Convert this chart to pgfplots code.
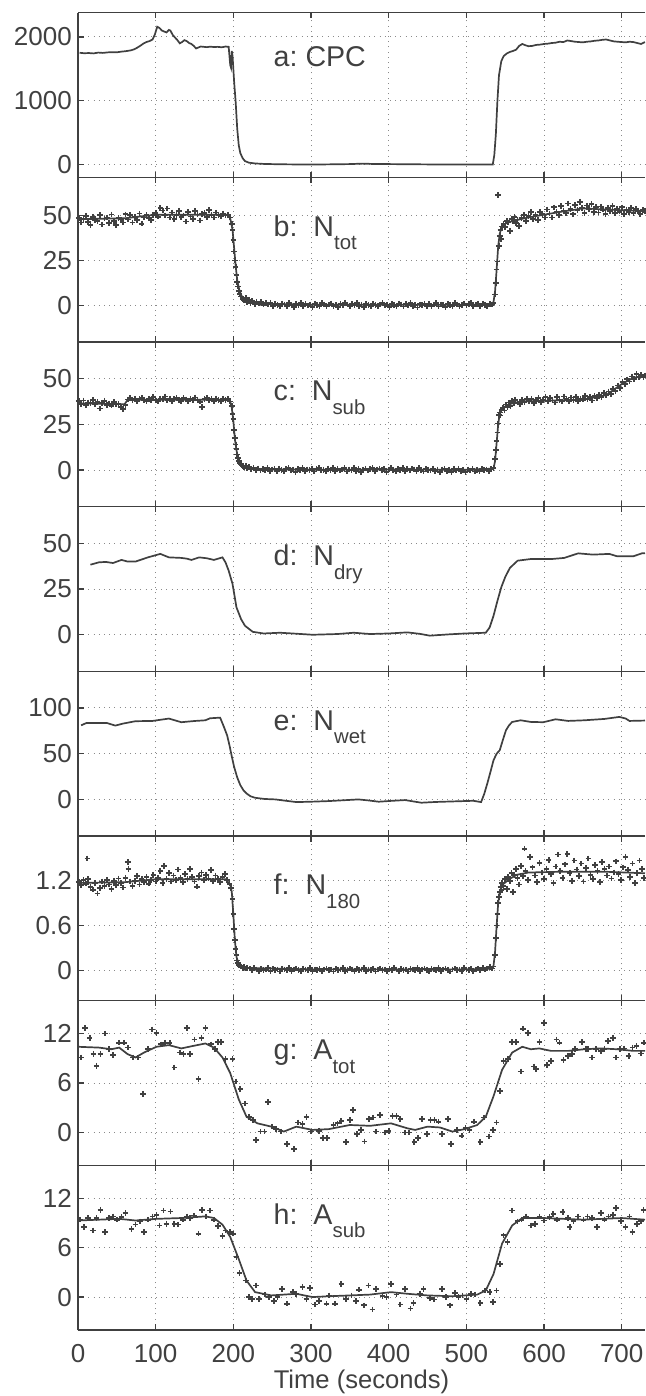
\documentclass[border=0pt]{standalone}
\usepackage{fontspec}
\setmainfont{Liberation Sans}
\usepackage{pgfplots}
\pgfplotsset{compat=1.18}
\definecolor{ink}{HTML}{404040}
\definecolor{gridc}{HTML}{8A8A8A}
\pgfplotsset{
  panel/.style={
    scale only axis, width=283.5pt, height=82.33pt,
    xmin=0, xmax=730,
    axis x line*=box, axis y line*=left,
    every outer x axis line/.append style={-},
    every outer y axis line/.append style={-},
    every inner x axis line/.append style={-},
    every inner y axis line/.append style={-},
    axis line style={ink, line width=0.75pt},
    ytick pos=left, xtick pos=both,
    tick align=inside,
    major tick length=2.8pt,
    tick style={ink, line width=0.6pt},
    xtick={0,100,...,700},
    xticklabels={},
    grid=major,
    major grid style={gridc, line width=0.5pt, dash pattern=on 0.5pt off 2.1pt},
    ticklabel style={font=\fontsize{13}{15}\selectfont, text=ink},
    yticklabel style={inner sep=0pt, anchor=east, xshift=-2.9pt},
    xticklabel style={inner sep=0pt, anchor=base, yshift=-16.4pt},
    /pgf/number format/assume math mode=true,
    /pgf/number format/1000 sep={},
    scaled y ticks=false,
    anchor=south west,
  },
  ln/.style={ink, line width=0.85pt, no markers},
  pts/.style={ink, only marks, mark=+, mark size=1.4pt, mark options={line width=0.85pt}},
}
\tikzset{lab/.style={anchor=base west, font=\fontsize{14.3}{16}\selectfont, text=ink, inner sep=0pt}}
\newcommand{\subtx}[1]{\raisebox{-6.8pt}{\fontsize{10.2}{12}\selectfont #1}}
\begin{document}
\begin{tikzpicture}
\useasboundingbox (0,0) rectangle (322.5pt,698pt);
% ---------------- a: CPC
\begin{axis}[panel, at={(39pt,609.31pt)}, ymin=-200, ymax=2380, ytick={0,1000,2000}]
\addplot[ln] coordinates {(2,1752)(8,1745)(14,1748)(20,1742)(26,1755)(32,1750)(38,1758)(44,1762)(50,1760)(56,1770)(62,1778)(68,1790)(72,1805)(76,1830)(80,1860)(84,1895)(88,1920)(92,1935)(96,1960)(99,2040)(102,2160)(105,2140)(108,2100)(111,2085)(114,2070)(117,2110)(119,2100)(122,2030)(125,1990)(128,1950)(131,1900)(134,1920)(137,1950)(140,1935)(143,1905)(146,1890)(149,1860)(152,1820)(155,1835)(158,1850)(162,1845)(166,1840)(170,1848)(175,1842)(180,1845)(185,1838)(190,1850)(194,1845)(196,1560)(197,1520)(198,1780)(199,1700)(201,1300)(203,980)(205,560)(207,300)(209,180)(212,100)(215,55)(220,30)(228,18)(240,10)(260,5)(300,0)(350,8)(366,15)(380,10)(400,8)(450,3)(500,0)(534,0)(536,150)(538,480)(540,1000)(542,1400)(545,1620)(548,1700)(552,1740)(556,1765)(560,1780)(564,1800)(568,1860)(572,1890)(576,1870)(580,1855)(585,1860)(590,1875)(595,1880)(600,1890)(605,1895)(610,1905)(615,1910)(620,1925)(625,1920)(630,1945)(635,1935)(640,1925)(645,1920)(650,1915)(655,1925)(660,1930)(665,1940)(670,1945)(675,1955)(680,1960)(685,1945)(690,1930)(695,1925)(700,1920)(705,1915)(710,1925)(715,1920)(720,1905)(725,1890)(730,1920)};
\node[lab] at (rel axis cs:0.3445,0.672) {a:\ CPC};
\end{axis}
% ---------------- b: N_tot
\begin{axis}[panel, at={(39pt,526.98pt)}, ymin=-20.4, ymax=71.3, ytick={0,25,50}]
\addplot[pts] coordinates {(1,48.7)(4,46.1)(7,48.0)(10,49.9)(13,46.5)(16,44.8)(19,49.3)(22,47.7)(25,46.9)(28,50.4)(31,45.0)(34,48.4)(37,49.0)(40,45.8)(43,50.6)(46,47.1)(49,44.7)(52,48.6)(55,47.8)(58,46.1)(61,50.7)(64,47.9)(67,50.2)(70,46.2)(73,49.3)(76,47.4)(79,51.1)(82,45.5)(85,48.9)(88,50.4)(91,48.6)(94,47.7)(97,50.5)(100,51.6)(103,49.4)(106,54.3)(109,52.8)(112,50.1)(115,53.9)(118,49.0)(121,51.8)(124,48.2)(127,50.5)(130,52.7)(133,49.3)(136,50.1)(139,46.8)(142,51.9)(145,49.5)(148,48.2)(151,52.4)(154,50.6)(157,47.3)(160,50.8)(163,51.5)(166,49.2)(169,53.1)(172,50.4)(175,48.9)(178,51.7)(181,50.2)(184,49.6)(187,51.2)(190,50.0)(193,50.5)
(196,49.0)(198,45.5)(199,42.0)(200,36.5)(201,30.0)(202,25.0)(203,21.5)(204,17.0)(205,13.0)(206,10.5)(207,8.0)(208,6.5)(210,5.0)(212,3.5)(214,2.8)(216,4.2)(218,1.9)(220,3.0)(222,1.2)(224,2.5)(226,1.6)(228,0.7)(230,2.1)(233,1.0)(236,1.8)(239,0.4)(242,1.3)(245,0.6)(248,1.5)(251,-0.3)
(254,0.9)(257,0.2)(260,-0.6)(263,1.1)(266,0.5)(269,-0.2)(272,1.4)(275,0.1)(278,-0.9)(281,0.7)(284,0.3)(287,1.2)(290,-0.4)(293,0.8)(296,-0.1)(299,0.5)(302,-0.8)(305,1.0)(308,0.2)(311,-0.3)(314,1.3)(317,0.6)(320,-0.5)(323,0.4)(326,1.1)(329,-0.2)(332,0.3)(335,-0.9)(338,0.9)(341,0.0)(344,1.5)(347,0.4)(350,-0.6)(353,0.7)(356,0.1)(359,1.2)(362,-0.3)(365,0.5)(368,-1.0)(371,0.8)(374,0.2)(377,-0.4)(380,1.0)(383,0.3)(386,-0.7)(389,0.6)(392,1.3)(395,-0.1)(398,0.4)(401,-0.8)(404,0.9)(407,0.1)(410,-0.3)(413,1.1)(416,0.5)(419,-0.6)(422,0.7)(425,0.0)(428,1.2)(431,-0.5)(434,0.3)(437,-1.1)(440,0.6)(443,0.2)(446,1.0)(449,-0.4)(452,0.8)(455,-0.2)(458,0.4)(461,1.4)(464,-0.7)(467,0.5)(470,0.1)(473,-0.9)(476,0.9)(479,0.3)(482,-0.3)(485,1.2)(488,0.6)(491,-0.6)(494,0.2)(497,1.0)(500,-0.1)(503,0.7)(506,1.3)(509,-0.5)(512,0.4)(515,0.9)(518,-0.2)(521,1.1)(524,0.3)(527,-0.4)(530,0.8)(533,0.5)(535,1.2)
(537,6.0)(538,12.5)(539,20.0)(540,24.5)(541,61.5)(542,33.0)(543,38.5)(544,42.0)(545,37.0)(546,44.0)(548,45.5)(550,43.8)(552,47.0)(554,46.2)(556,41.5)(558,48.3)(560,46.7)(562,49.1)(564,45.8)(566,47.9)(568,44.2)
(571,48.8)(574,50.5)(577,46.9)(580,49.7)(583,51.9)(586,48.2)(589,50.3)(592,47.6)(595,52.1)(598,50.8)(601,49.0)(604,53.4)(607,51.2)(610,48.9)(613,54.6)(616,52.0)(619,50.5)(622,55.3)(625,52.9)(628,51.4)(631,56.8)(634,53.6)(637,50.7)(640,55.9)(643,53.1)(646,57.7)(649,54.2)(652,51.3)(655,55.6)(658,53.8)(661,56.3)(664,52.1)(667,54.7)(670,51.8)(673,55.0)(676,53.3)(679,50.9)(682,54.1)(685,52.6)(688,55.2)(691,51.5)(694,53.9)(697,52.2)(700,54.6)(703,51.0)(706,53.4)(709,52.0)(712,54.3)(715,51.6)(718,53.7)(721,52.5)(724,50.8)(727,53.2)(730,52.4)};
\addplot[ln] coordinates {(0,48)(60,48.5)(100,50.5)(150,50.5)(192,50.5)(196,48.5)(199,42)(201,32)(203,22)(205,14)(208,8)(212,4)(218,2.5)(230,1.5)(250,0.8)(300,0.4)(400,0.3)(500,0.3)(533,0.6)(535,2)(537,8)(539,20)(541,33)(543,40)(546,44)(552,46)(560,47)(580,49)(620,52)(650,54)(700,53)(730,52.5)};
\node[lab] at (rel axis cs:0.3445,0.642) {b:\ \ N\subtx{tot}};
\end{axis}
% ---------------- c: N_sub
\begin{axis}[panel, at={(39pt,444.65pt)}, ymin=-20, ymax=70, ytick={0,25,50}]
\addplot[pts] coordinates {(1,37.8)(4,36.2)(7,38.1)(10,35.4)(13,37.0)(16,36.5)(19,38.3)(22,35.9)(25,37.2)(28,33.6)(31,36.8)(34,37.9)(37,35.7)(40,36.4)(43,35.2)(46,37.1)(49,35.8)(52,36.0)(55,34.6)(58,33.5)(61,35.5)(64,38.6)(67,39.4)(70,38.0)(73,39.1)(76,37.8)(79,38.9)(82,39.6)(85,38.2)(88,37.7)(91,39.0)(94,38.4)(97,39.8)(100,38.1)(103,37.5)(106,39.2)(109,38.7)(112,40.3)(115,38.0)(118,39.1)(121,37.6)(124,38.8)(127,39.5)(130,38.3)(133,37.9)(136,39.4)(139,38.6)(142,37.8)(145,39.0)(148,38.2)(151,39.7)(154,38.5)(157,37.4)(160,34.5)(163,38.9)(166,39.3)(169,38.0)(172,38.8)(175,37.7)(178,39.2)(181,38.4)(184,37.9)(187,39.1)(190,38.3)(193,38.7)(196,37.5)
(198,35.0)(199,30.5)(200,28.0)(201,22.0)(202,17.5)(203,14.0)(204,11.5)(205,8.5)(206,6.5)(207,5.0)(208,3.8)(210,3.0)(212,2.2)(214,1.5)(216,2.4)(218,1.0)(220,1.6)(223,0.6)(226,1.2)(229,0.2)(232,0.9)(235,-0.3)(238,0.7)(241,0.1)(244,1.0)(247,-0.5)(250,0.4)
(253,0.6)(256,-0.4)(259,0.9)(262,0.1)(265,-0.8)(268,0.5)(271,1.1)(274,-0.2)(277,0.3)(280,-0.9)(283,0.7)(286,0.2)(289,1.2)(292,-0.5)(295,0.4)(298,-0.1)(301,0.8)(304,-0.7)(307,0.5)(310,1.0)(313,-0.3)(316,0.2)(319,-0.6)(322,0.9)(325,0.1)(328,1.3)(331,-0.4)(334,0.6)(337,-0.2)(340,0.3)(343,1.1)(346,-0.8)(349,0.4)(352,0.0)(355,1.0)(358,-0.5)(361,0.7)(364,-1.2)(367,0.2)(370,0.8)(373,-0.3)(376,0.5)(379,1.2)(382,-0.6)(385,0.3)(388,0.9)(391,-0.1)(394,0.6)(397,-0.9)(400,0.4)(403,1.1)(406,0.0)(409,-0.4)(412,0.7)(415,0.2)(418,1.0)(421,-0.7)(424,0.5)(427,-0.2)(430,0.8)(433,0.3)(436,-0.5)(439,1.2)(442,0.1)(445,-0.8)(448,0.6)(451,0.2)(454,-0.3)(457,0.9)(460,-0.6)(463,0.4)(466,-1.0)(469,0.3)(472,0.7)(475,-0.4)(478,0.2)(481,-0.9)(484,0.5)(487,-0.2)(490,0.8)(493,-0.6)(496,0.1)(499,-1.1)(502,0.4)(505,-0.3)(508,0.6)(511,-0.8)(514,0.2)(517,-0.5)(520,0.7)(523,-0.1)(526,0.3)(529,-0.6)(532,0.5)(535,1.2)
(537,6.0)(538,11.0)(539,16.0)(540,20.5)(541,25.5)(542,30.0)(543,31.5)(544,29.8)(545,33.0)(547,34.2)(549,32.5)(551,35.8)(553,34.6)(555,36.9)(557,35.1)(559,37.8)(561,36.4)(563,38.5)(566,37.0)(569,36.2)
(572,38.4)(575,37.1)(578,39.0)(581,37.6)(584,38.9)(587,36.8)(590,38.2)(593,39.5)(596,37.3)(599,38.6)(602,40.1)(605,37.7)(608,39.3)(611,38.0)(614,36.9)(617,39.8)(620,38.4)(623,37.6)(626,40.3)(629,38.9)(632,37.5)(635,39.6)(638,38.2)(641,40.0)(644,37.9)(647,39.1)(650,38.5)(653,40.4)(656,38.7)(659,39.9)(662,38.1)(665,40.6)(668,39.2)(671,41.0)(674,39.8)(677,42.1)(680,40.9)(683,43.0)(686,41.7)(689,44.3)(692,43.1)(695,46.2)(698,45.0)(701,48.3)(704,47.1)(707,49.6)(710,48.4)(713,51.2)(716,49.8)(719,52.6)(722,50.7)(725,52.0)(728,50.9)(730,51.8)};
\addplot[ln] coordinates {(0,36.5)(60,36)(64,38.5)(190,38.5)(196,37.5)(198,34)(200,27)(202,17)(204,11)(206,6.5)(209,3.5)(213,2)(220,1)(240,0.4)(300,0.2)(400,0.3)(500,0.2)(535,0.8)(537,5)(539,15)(541,25)(543,31)(547,34)(555,36)(570,37.5)(650,38.5)(680,41)(700,47)(715,50.5)(730,51.5)};
\node[lab] at (rel axis cs:0.3445,0.642) {c:\ \ N\subtx{sub}};
\end{axis}
% ---------------- d: N_dry
\begin{axis}[panel, at={(39pt,362.32pt)}, ymin=-20, ymax=70, ytick={0,25,50}]
\addplot[ln] coordinates {(16,38.3)(27,39.6)(36,39.8)(45,39.2)(56,40.9)(64,40.0)(74,40.0)(90,42.3)(106,44.2)(117,42.3)(133,42.0)(140,41.6)(146,40.9)(156,42.3)(166,41.8)(175,40.9)(186,42.3)(190,39.5)(194,35.0)(199,27.7)(204,15.0)(210,8.5)(215,4.9)(225,1.6)(239,0.7)(260,1.1)(280,0.6)(302,0.0)(334,0.4)(355,1.1)(376,0.4)(400,0.7)(424,1.3)(440,0.5)(453,-0.5)(477,0.2)(498,0.7)(525,1.1)(530,4.0)(535,10.4)(540,18.5)(545,26.0)(550,31.5)(556,36.5)(566,40.5)(583,41.4)(610,41.4)(626,42.0)(644,44.5)(663,43.8)(684,44.2)(694,42.9)(715,42.9)(726,44.5)(730,44.6)};
\node[lab] at (rel axis cs:0.3445,0.642) {d:\ \ N\subtx{dry}};
\end{axis}
% ---------------- e: N_wet
\begin{axis}[panel, at={(39pt,279.99pt)}, ymin=-40, ymax=140, ytick={0,50,100}]
\addplot[ln] coordinates {(4,81.0)(11,83.6)(37,83.6)(48,80.7)(58,82.9)(74,85.5)(96,85.8)(117,88.4)(133,84.4)(151,85.8)(164,86.5)(170,88.7)(183,89.4)(188,79.0)(192,70.0)(195,59.3)(198,47.0)(201,35.6)(205,24.0)(209,15.6)(213,10.0)(217,6.5)(222,3.5)(228,1.8)(240,0.5)(254,0.0)(268,-1.5)(281,-2.9)(300,-2.5)(323,-1.8)(340,-1.0)(361,0.0)(375,-1.2)(387,-2.5)(405,-1.5)(421,-0.7)(442,-3.6)(460,-2.8)(471,-2.5)(490,-2.0)(509,-1.5)(519,-2.9)(523,6.0)(527,17.5)(531,30.0)(535,42.9)(539,50.0)(543,53.8)(547,65.0)(551,75.6)(555,81.0)(559,84.7)(570,86.5)(583,84.7)(599,84.4)(615,87.6)(631,85.8)(652,86.5)(678,88.0)(697,90.2)(705,88.5)(710,85.8)(730,86.2)};
\node[lab] at (rel axis cs:0.3445,0.642) {e:\ \ N\subtx{wet}};
\end{axis}
% ---------------- f: N_180
\begin{axis}[panel, at={(39pt,197.66pt)}, ymin=-0.41, ymax=1.8, ytick={0,0.6,1.2}]
\addplot[pts] coordinates {(1,1.18)(4,1.14)(7,1.21)(10,1.16)(12,1.50)(13,1.22)(16,1.12)(19,1.08)(22,1.17)(25,1.03)(28,1.10)(31,1.19)(34,1.13)(37,1.21)(40,1.15)(43,1.09)(46,1.20)(49,1.14)(52,1.23)(55,1.17)(58,1.11)(61,1.24)(64,1.45)(65,1.36)(67,1.19)(70,1.13)(73,1.20)(76,1.26)(79,1.15)(82,1.22)(85,1.18)(88,1.25)(91,1.16)(94,1.21)(97,1.28)(100,1.19)(103,1.24)(106,1.33)(109,1.17)(111,1.40)(114,1.22)(117,1.30)(120,1.19)(123,1.27)(126,1.21)(129,1.35)(132,1.24)(135,1.18)(138,1.29)(141,1.22)(144,1.36)(147,1.25)(150,1.19)(153,1.12)(156,1.26)(159,1.31)(162,1.21)(165,1.28)(168,1.23)(171,1.34)(174,1.20)(177,1.27)(180,1.22)(183,1.18)(186,1.25)(189,1.29)(192,1.21)(195,1.16)
(197,1.10)(199,0.95)(200,0.75)(201,0.55)(202,0.40)(203,0.28)(204,0.20)(205,0.13)(206,0.10)(207,0.07)(208,0.06)(210,0.05)(212,0.03)(214,0.04)(216,0.02)(218,0.03)
(221,0.02)(224,0.00)(227,0.03)(230,0.01)(233,-0.01)(236,0.02)(239,0.00)(242,0.01)(245,0.03)(248,-0.01)(251,0.02)(254,0.00)(257,0.01)(260,-0.02)(263,0.02)(266,0.01)(269,0.00)(272,0.03)(275,-0.01)(278,0.01)(281,0.02)(284,0.00)(287,-0.01)(290,0.02)(293,0.01)(296,0.00)(299,0.03)(302,-0.01)(305,0.01)(308,0.00)(311,0.02)(314,-0.01)(317,0.01)(320,0.02)(323,0.00)(326,0.01)(329,-0.02)(332,0.02)(335,0.00)(338,0.01)(341,0.03)(344,-0.01)(347,0.00)(350,0.02)(353,0.01)(356,-0.01)(359,0.02)(362,0.00)(365,0.01)(368,0.03)(371,-0.01)(374,0.01)(377,0.00)(380,0.02)(383,-0.02)(386,0.01)(389,0.02)(392,0.00)(395,0.01)(398,-0.01)(401,0.02)(404,0.00)(407,0.03)(410,0.01)(413,-0.01)(416,0.02)(419,0.00)(422,0.01)(425,-0.02)(428,0.02)(431,0.01)(434,0.00)(437,0.03)(440,-0.01)(443,0.01)(446,0.02)(449,0.00)(452,-0.01)(455,0.02)(458,0.01)(461,0.00)(464,0.03)(467,-0.01)(470,0.01)(473,0.02)(476,0.00)(479,-0.02)(482,0.01)(485,0.02)(488,0.00)(491,0.01)(494,-0.01)(497,0.03)(500,0.01)(503,0.00)(506,0.02)(509,-0.01)(512,0.01)(515,0.02)(518,0.00)(521,0.03)(524,0.01)(527,0.02)(530,0.04)(533,0.02)(535,0.05)
(537,0.20)(538,0.43)(539,0.60)(540,0.75)(541,0.90)(542,0.98)(543,1.05)(544,1.12)(545,1.08)(546,1.17)(548,1.13)(550,1.22)(552,1.09)(554,1.25)(556,1.20)(558,1.30)(560,1.05)(562,1.28)(564,1.36)(566,1.24)(568,1.15)(570,1.40)
(573,1.26)(575,1.63)(576,1.33)(579,1.21)(582,1.52)(585,1.38)(588,1.27)(591,1.18)(594,1.44)(597,1.31)(600,1.22)(603,1.36)(606,1.48)(609,1.29)(612,1.17)(615,1.39)(618,1.55)(621,1.33)(624,1.24)(627,1.42)(630,1.56)(633,1.30)(636,1.20)(639,1.47)(642,1.35)(645,1.26)(648,1.43)(651,1.19)(654,1.37)(657,1.50)(660,1.28)(663,1.22)(666,1.41)(669,1.33)(672,1.18)(675,1.45)(678,1.36)(681,1.27)(684,1.39)(687,1.23)(690,1.31)(693,1.46)(696,1.29)(699,1.21)(702,1.38)(705,1.52)(708,1.34)(711,1.25)(714,1.43)(717,1.17)(720,1.30)(723,1.47)(726,1.36)(729,1.24)};
\addplot[ln] coordinates {(0,1.17)(60,1.18)(100,1.22)(190,1.22)(196,1.15)(198,1.05)(200,0.75)(202,0.40)(204,0.18)(207,0.07)(212,0.03)(300,0.01)(400,0.01)(500,0.01)(533,0.02)(535,0.06)(537,0.25)(539,0.60)(541,0.90)(543,1.05)(547,1.15)(555,1.22)(565,1.28)(580,1.31)(620,1.32)(680,1.32)(730,1.30)};
\node[lab] at (rel axis cs:0.3445,0.642) {f:\ \ N\subtx{180}};
\end{axis}
% ---------------- g: A_tot
\begin{axis}[panel, at={(39pt,115.33pt)}, ymin=-4, ymax=16, ytick={0,6,12}]
\addplot[pts] coordinates {(4,9.1)(9,12.7)(15,11.5)(20,9.5)(24,8.1)(29,9.5)(35,12.0)(40,10.1)(45,9.4)(53,10.9)(59,10.9)(64,10.3)(71,9.1)(77,9.1)(84,4.7)(90,10.1)(95,12.5)(101,12.1)(107,10.7)(112,10.9)(118,10.9)(124,7.9)(131,9.7)(136,9.5)(140,12.7)(144,9.5)(150,11.3)(155,6.5)(159,11.5)(164,12.7)(171,10.7)(176,10.1)(180,11.0)(184,11.0)(190,8.9)(199,8.9)(203,6.2)(209,5.3)(215,3.5)(220,1.9)(225,1.5)(229,-0.9)(235,0.1)(240,0.1)(245,3.7)(250,0.7)(255,0.4)(261,0.1)(269,-1.4)(278,-2.0)(283,1.2)(289,1.0)(294,1.9)(300,0.1)(310,0.2)(315,-0.7)(321,-0.7)(329,0.9)(334,1.1)(339,1.4)(345,-1.2)(350,1.5)(354,2.7)(359,-0.2)(364,0.3)(369,-1.1)(375,1.6)(380,1.8)(384,0.1)(389,2.1)(395,0.0)(400,0.2)(405,2.0)(410,2.0)(415,1.6)(421,0.0)(426,0.0)(433,-1.2)(438,-0.7)(443,1.6)(449,-0.2)(454,1.5)(459,1.5)(464,1.3)(469,-0.2)(476,1.6)(480,-1.4)(488,0.3)(494,-0.4)(499,0.5)(504,0.3)(510,1.3)(518,-1.2)(523,1.8)(529,-0.5)(534,0.3)(539,1.2)(543,5.0)(548,8.7)(554,8.9)(559,11.0)(564,11.0)(570,7.4)(573,12.6)(579,12.1)(587,8.0)(590,7.7)(594,11.0)(600,13.3)(604,8.2)(609,8.7)(616,11.3)(620,10.9)(625,8.8)(631,9.3)(636,9.5)(640,10.1)(649,11.0)(654,10.1)(657,10.1)(662,9.1)(667,10.1)(673,9.9)(678,10.1)(682,11.1)(689,11.5)(693,9.1)(698,10.1)(703,10.2)(709,9.3)(714,10.3)(719,10.5)(725,9.6)(729,10.9)};
\addplot[ln] coordinates {(0,10.4)(27,10.3)(43,10.1)(53,10.3)(64,9.5)(74,9.1)(85,9.7)(101,10.4)(117,10.6)(133,10.2)(148,10.5)(164,10.8)(175,10.3)(186,9.1)(196,7.2)(207,4.0)(217,1.9)(231,1.1)(249,0.7)(265,0.1)(281,0.7)(302,0.3)(323,0.4)(350,0.9)(376,0.8)(403,1.1)(424,0.5)(434,0.3)(450,0.7)(466,0.6)(482,0.1)(498,0.4)(514,0.9)(525,1.9)(535,4.4)(546,7.6)(559,9.7)(572,10.4)(583,10.1)(594,10.2)(609,9.9)(631,9.9)(652,10.1)(673,10.2)(694,10.1)(715,9.9)(730,9.9)};
\node[lab] at (rel axis cs:0.3445,0.642) {g:\ \ A\subtx{tot}};
\end{axis}
% ---------------- h: A_sub
\begin{axis}[panel, at={(39pt,33pt)}, ymin=-4, ymax=16, ytick={0,6,12},
  xticklabels={0,100,200,300,400,500,600,700},
  xlabel={Time (seconds)},
  x label style={at={(axis description cs:0.5,0)}, anchor=base, inner sep=0pt, yshift=-29pt, font=\fontsize{12.8}{14}\selectfont, text=ink}]
\addplot[pts] coordinates {(3,9.4)(8,8.5)(13,9.6)(19,8.1)(24,9.6)(29,10.6)(35,7.9)(40,9.6)(45,9.8)(50,9.4)(56,9.7)(61,10.2)(69,8.3)(74,8.8)(80,9.2)(85,7.9)(90,9.4)(96,9.8)(101,10.0)(105,8.7)(110,10.5)(114,8.9)(119,10.4)(124,8.9)(129,8.8)(135,9.4)(140,9.8)(144,9.6)(149,9.9)(155,7.7)(160,10.6)(165,9.8)(170,10.5)(175,9.4)(180,8.6)(186,7.4)(190,8.1)(196,7.9)(200,7.7)(204,4.9)(208,2.9)(216,2.0)(220,0.0)(224,-0.2)(229,1.4)(233,-0.2)(241,0.3)(246,0.0)(252,-0.5)(257,0.0)(263,1.0)(269,-0.8)(277,0.6)(281,0.4)(289,1.2)(294,-0.2)(299,1.1)(305,-0.9)(310,-0.5)(320,-0.8)(323,0.2)(331,-0.8)(339,1.6)(345,-0.2)(352,0.2)(358,-0.5)(362,0.9)(368,-1.0)(374,1.4)(379,-1.5)(384,1.0)(392,0.1)(397,0.0)(403,1.6)(410,0.3)(415,-0.9)(421,1.0)(428,-1.4)(432,-0.7)(440,0.4)(445,1.0)(453,-0.1)(458,-0.3)(469,1.0)(474,0.0)(479,-1.0)(485,0.5)(490,0.0)(495,0.2)(500,-0.2)(506,0.4)(511,0.3)(518,-0.7)(524,0.8)(530,0.6)(534,-0.6)(539,0.8)(543,4.0)(548,7.5)(553,6.7)(559,10.5)(566,9.2)(571,9.4)(577,9.8)(583,8.7)(588,8.9)(594,9.8)(600,9.3)(607,9.7)(612,10.1)(617,9.4)(624,10.3)(631,9.6)(633,8.5)(638,9.2)(644,9.8)(651,9.4)(656,9.8)(662,9.6)(668,8.5)(673,10.2)(678,9.4)(683,9.8)(689,10.0)(693,10.8)(699,9.2)(705,8.5)(710,9.8)(714,7.9)(720,8.9)(725,9.2)(728,10.6)};
\addplot[ln] coordinates {(0,9.3)(27,9.4)(53,9.5)(74,9.3)(101,9.5)(133,9.6)(164,9.8)(175,9.6)(186,8.8)(196,7.3)(207,4.6)(217,2.0)(228,0.6)(249,0.2)(265,0.3)(281,0.4)(302,0.0)(323,0.1)(350,0.2)(376,0.3)(403,0.6)(424,0.4)(450,0.2)(482,0.1)(514,0.3)(525,0.8)(535,2.8)(546,6.5)(559,8.7)(572,9.6)(600,9.6)(650,9.4)(700,9.6)(730,9.4)};
\node[lab] at (rel axis cs:0.3445,0.642) {h:\ \ A\subtx{sub}};
\end{axis}
\end{tikzpicture}
\end{document}
